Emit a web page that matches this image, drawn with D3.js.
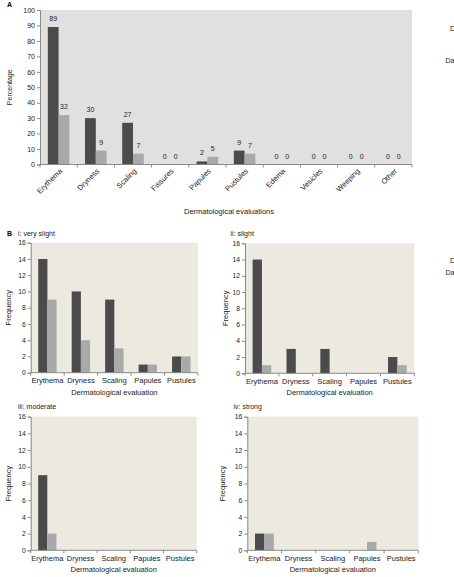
<!DOCTYPE html>
<html>
<head>
<meta charset="utf-8">
<script src="https://cdn.jsdelivr.net/npm/d3@7"></script>
<style>
body { margin: 0; background: #fff; }
svg { font-family: "Liberation Sans", Arial, sans-serif; }
</style>
</head>
<body>
<svg id="chart" width="454" height="577"></svg>
<script>
// panel A data
var catsA = ["Erythema", "Dryness", "Scaling", "Fissures", "Papules", "Pustules", "Edema", "Vesicles", "Weeping", "Other"];
var darkA = [89, 30, 27, 0, 2, 9, 0, 0, 0, 0];
var lightA = [32, 9, 7, 0, 5, 7, 0, 0, 0, 0];
var ticksA = [0, 10, 20, 30, 40, 50, 60, 70, 80, 90, 100];

// panel B data
var catsB = ["Erythema", "Dryness", "Scaling", "Papules", "Pustules"];
var ticksB = [0, 2, 4, 6, 8, 10, 12, 14, 16];
var darkB1 = [14, 10, 9, 1, 2];
var lightB1 = [9, 4, 3, 1, 2];
var darkB2 = [14, 3, 3, 0, 2];
var lightB2 = [1, 0, 0, 0, 1];
var darkB3 = [9, 0, 0, 0, 0];
var lightB3 = [2, 0, 0, 0, 0];
var darkB4 = [2, 0, 0, 0, 0];
var lightB4 = [2, 0, 0, 1, 0];

var DARK = "#4b4b4b", LIGHT = "#a9a9a9", AXIS = "#8a8a8a", INK = "#222";
var svg = d3.select("#chart");

// ---------- panel A ----------
var x0 = 40, x1 = 412, yTop = 10, yBot = 164.5;
var xA = d3.scaleBand().domain(catsA).range([x0, x1]);
var yA = d3.scaleLinear().domain([0, 100]).range([yBot, yTop]);
var bw = xA.bandwidth() * 0.29;

svg.append("text").attr("x", 7).attr("y", 7).attr("font-size", 7).attr("font-weight", "bold").text("A");
svg.append("rect").attr("x", x0).attr("y", yTop).attr("width", x1 - x0).attr("height", yBot - yTop).attr("fill", "#e0e0e0");

var gA = svg.append("g");
catsA.forEach(function(c, i){
	var cx = xA(c) + xA.bandwidth() / 2;
	gA.append("rect").attr("x", cx - bw).attr("y", yA(darkA[i])).attr("width", bw).attr("height", yBot - yA(darkA[i])).attr("fill", DARK);
	gA.append("rect").attr("x", cx).attr("y", yA(lightA[i])).attr("width", bw).attr("height", yBot - yA(lightA[i])).attr("fill", LIGHT);
	gA.append("text").attr("x", cx - bw / 2).attr("y", yA(darkA[i]) - 6).attr("text-anchor", "middle").attr("font-size", 7).attr("fill", INK).text(darkA[i]);
	gA.append("text").attr("x", cx + bw / 2).attr("y", yA(lightA[i]) - 6).attr("text-anchor", "middle").attr("font-size", 7).attr("fill", INK).text(lightA[i]);
});

var axL = svg.append("g").attr("transform", "translate(" + x0 + ",0)")
	.call(d3.axisLeft(yA).tickValues(ticksA).tickSize(3).tickPadding(2));
axL.select(".domain").attr("stroke", AXIS);
axL.selectAll(".tick line").attr("stroke", AXIS);
axL.selectAll("text").attr("font-size", 7).attr("fill", INK).attr("font-family", "Liberation Sans, Arial, sans-serif");

var axB = svg.append("g").attr("transform", "translate(0," + yBot + ")");
axB.append("line").attr("x1", x0).attr("x2", x1).attr("stroke", AXIS);
xA.domain().forEach(function(c){
	axB.append("line").attr("x1", xA(c)).attr("x2", xA(c)).attr("y2", 3).attr("stroke", AXIS);
});
axB.append("line").attr("x1", x1).attr("x2", x1).attr("y2", 3).attr("stroke", AXIS);
catsA.forEach(function(c){
	var cx = xA(c) + xA.bandwidth() / 2 + 4;
	axB.append("text").attr("transform", "translate(" + cx + ",7) rotate(-45)")
		.attr("text-anchor", "end").attr("font-size", 7.5).attr("fill", INK).text(c);
});

svg.append("text").attr("transform", "translate(12," + ((yTop + yBot) / 2) + ") rotate(-90)")
	.attr("text-anchor", "middle").attr("font-size", 7).attr("fill", INK).text("Percentage");
svg.append("text").attr("x", 229).attr("y", 214).attr("text-anchor", "middle").attr("font-size", 7.5).attr("fill", INK).text("Dermatological evaluations");

// cut-off legend text on the right
svg.append("text").attr("x", 450).attr("y", 31).attr("font-size", 7).attr("fill", INK).text("D");
svg.append("text").attr("x", 445.5).attr("y", 63).attr("font-size", 7).attr("fill", INK).text("Da");
svg.append("text").attr("x", 450).attr("y", 263).attr("font-size", 7).attr("fill", INK).text("D");
svg.append("text").attr("x", 445.5).attr("y", 275).attr("font-size", 7).attr("fill", INK).text("Da");

// ---------- panel B ----------
svg.append("text").attr("x", 7).attr("y", 236).attr("font-size", 7).attr("font-weight", "bold").text("B");

function drawPanel(title, titleX, titleY, left, right, top, bottom, fLabelX, dark, light){
	var x = d3.scaleBand().domain(catsB).range([left, right]);
	var y = d3.scaleLinear().domain([0, 16]).range([bottom, top]);
	var w = x.bandwidth() * 0.275;
	var g = svg.append("g");

	g.append("text").attr("x", titleX).attr("y", titleY).attr("font-size", 7).attr("fill", INK).text(title);
	g.append("rect").attr("x", left).attr("y", top).attr("width", right - left).attr("height", bottom - top).attr("fill", "#ece9e1");

	catsB.forEach(function(c, i){
		var cx = x(c) + x.bandwidth() / 2;
		g.append("rect").attr("x", cx - w).attr("y", y(dark[i])).attr("width", w).attr("height", bottom - y(dark[i])).attr("fill", DARK);
		g.append("rect").attr("x", cx).attr("y", y(light[i])).attr("width", w).attr("height", bottom - y(light[i])).attr("fill", LIGHT);
	});

	var al = g.append("g").attr("transform", "translate(" + left + ",0)")
		.call(d3.axisLeft(y).tickValues(ticksB).tickSize(3).tickPadding(2));
	al.select(".domain").attr("stroke", AXIS);
	al.selectAll(".tick line").attr("stroke", AXIS);
	al.selectAll("text").attr("font-size", 6.8).attr("fill", INK).attr("font-family", "Liberation Sans, Arial, sans-serif");

	var ab = g.append("g").attr("transform", "translate(0," + bottom + ")");
	ab.append("line").attr("x1", left).attr("x2", right).attr("stroke", AXIS);
	catsB.forEach(function(c){
		ab.append("line").attr("x1", x(c)).attr("x2", x(c)).attr("y2", 3).attr("stroke", AXIS);
		ab.append("text").attr("x", x(c) + x.bandwidth() / 2).attr("y", 10.5).attr("text-anchor", "middle")
			.attr("font-size", 7.5).attr("fill", INK).text(c);
	});
	ab.append("line").attr("x1", right).attr("x2", right).attr("y2", 3).attr("stroke", AXIS);
	ab.append("text").attr("x", (left + right) / 2).attr("y", 22).attr("text-anchor", "middle")
		.attr("font-size", 7.5).attr("fill", INK).text("Dermatological evaluation");

	g.append("text").attr("transform", "translate(" + fLabelX + "," + ((top + bottom) / 2) + ") rotate(-90)")
		.attr("text-anchor", "middle").attr("font-size", 7.5).attr("fill", INK).text("Frequency");
}

drawPanel("i: very slight", 18, 236, 30.7, 198, 242.7, 372.7, 11, darkB1, lightB1);
drawPanel("ii: slight", 230.5, 236, 245, 414.3, 243.3, 373.3, 228, darkB2, lightB2);
drawPanel("iii: moderate", 18, 409, 30.7, 196.7, 416.7, 550.3, 11, darkB3, lightB3);
drawPanel("iv: strong", 233.5, 409, 247.3, 418.3, 416.7, 550.3, 225, darkB4, lightB4);
</script>
</body>
</html>
